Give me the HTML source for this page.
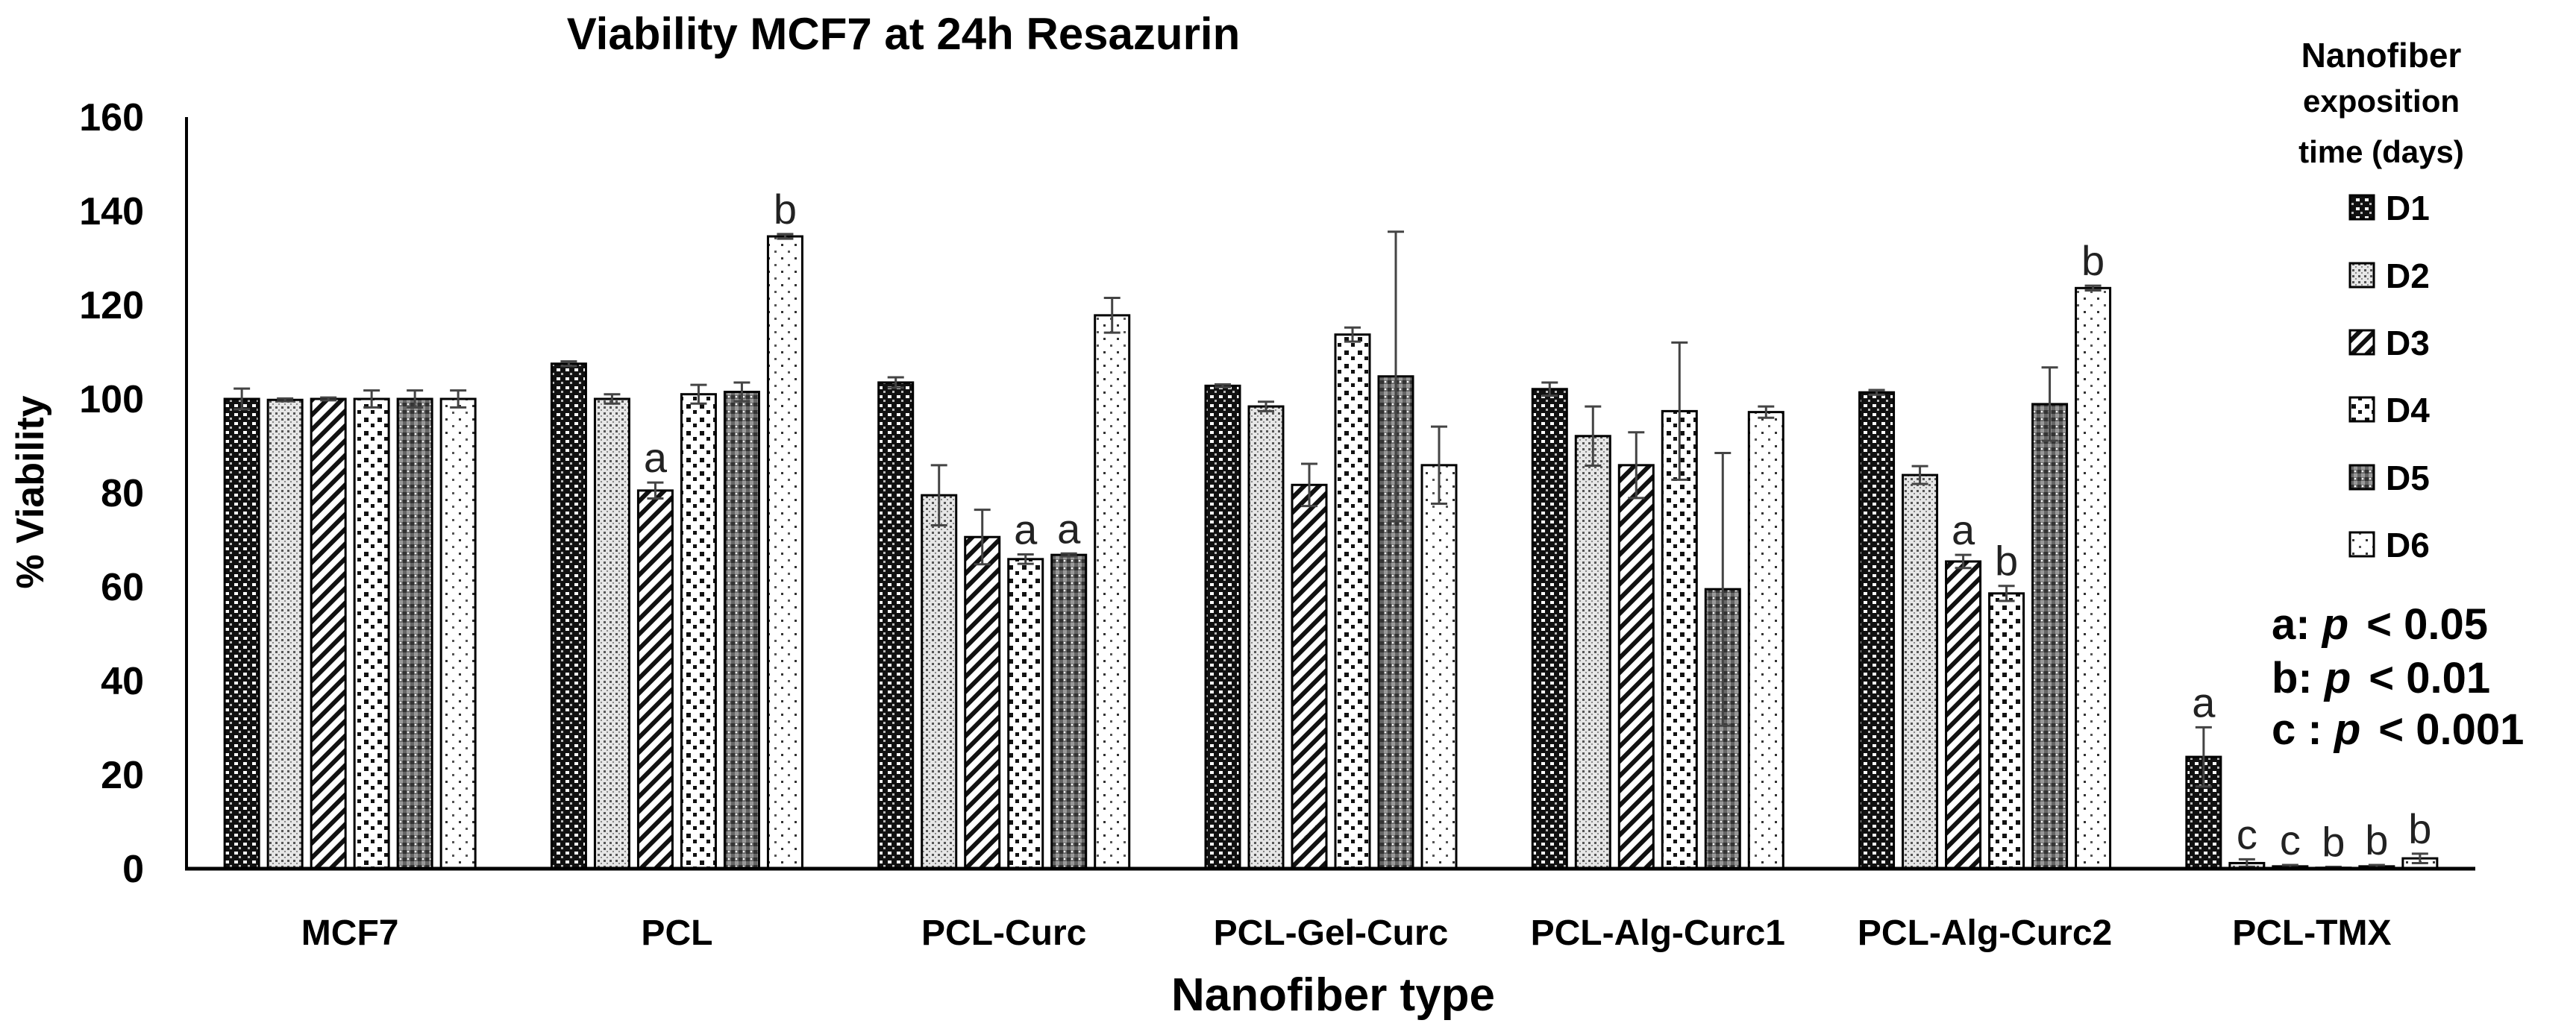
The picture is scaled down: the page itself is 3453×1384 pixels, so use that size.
<!DOCTYPE html>
<html><head><meta charset="utf-8"><style>
html,body{margin:0;padding:0;background:#fff;}
svg{display:block;font-family:"Liberation Sans",sans-serif;}
</style></head><body>
<svg id="chart" width="3453" height="1384" viewBox="0 0 3453 1384" xmlns="http://www.w3.org/2000/svg">
<defs>
<pattern id="p0" width="12" height="12" patternUnits="userSpaceOnUse"><rect width="12" height="12" fill="#111"/><rect x="2" y="2" width="5" height="4" fill="#fff"/><rect x="8" y="8" width="3" height="3" fill="#bbb"/></pattern>
<pattern id="p1" width="8" height="8" patternUnits="userSpaceOnUse"><rect width="8" height="8" fill="#e6e6e6"/><rect x="1" y="1" width="3" height="3" fill="#555"/><rect x="5" y="5" width="2" height="2" fill="#888"/></pattern>
<pattern id="p2" width="14" height="14" patternUnits="userSpaceOnUse" patternTransform="rotate(45)"><rect width="14" height="14" fill="#fff"/><rect width="6" height="14" fill="#111"/></pattern>
<pattern id="p3" width="18" height="18" patternUnits="userSpaceOnUse"><rect width="18" height="18" fill="#fff"/><rect x="2" y="2" width="6" height="6" fill="#111"/><rect x="11" y="10" width="5" height="5" fill="#111"/></pattern>
<pattern id="p4" width="10" height="10" patternUnits="userSpaceOnUse"><rect width="10" height="10" fill="#666"/><rect x="0" y="0" width="5" height="5" fill="#333"/><rect x="5" y="5" width="5" height="5" fill="#999"/><circle cx="7" cy="2" r="1.3" fill="#fff"/></pattern>
<pattern id="p5" width="18" height="18" patternUnits="userSpaceOnUse"><rect width="18" height="18" fill="#fff"/><rect x="3" y="3" width="3" height="3" fill="#333"/><rect x="12" y="12" width="3" height="3" fill="#555"/></pattern>
</defs>
<g id="plot"></g>
</svg>
<script>
const categories = ["MCF7","PCL","PCL-Curc","PCL-Gel-Curc","PCL-Alg-Curc1","PCL-Alg-Curc2","PCL-TMX"];
const seriesNames = ["D1","D2","D3","D4","D5","D6"];
const d1 = [100, 107.5, 103.5, 102.8, 102.1, 101.4, 23.8];
const d2 = [99.8, 100, 79.5, 98.4, 92.1, 83.8, 1.2];
const d3 = [100, 80.5, 70.6, 81.7, 85.9, 65.4, 0.5];
const d4 = [100, 101, 65.9, 113.7, 97.4, 58.6, 0.2];
const d5 = [100, 101.5, 66.8, 104.8, 59.5, 98.9, 0.5];
const d6 = [100, 134.6, 117.8, 85.9, 97.2, 123.6, 2.2];
const e1 = [2.2, 0.5, 1.1, 0.3, 1.4, 0.5, 6.3];
const e2 = [0.3, 1, 6.4, 1, 6.3, 1.9, 0.8];
const e3 = [0.3, 1.7, 5.8, 4.5, 7, 1.4, 0.3];
const e4 = [1.8, 2, 1, 1.5, 14.6, 1.6, 0.2];
const e5 = [1.8, 2, 0.3, 30.8, 29, 7.8, 0.3];
const e6 = [1.8, 0.5, 3.7, 8.2, 1.2, 0.5, 1];
const sig1 = ["", "", "", "", "", "", "a"];
const sig2 = ["", "", "", "", "", "", "c"];
const sig3 = ["", "a", "", "", "", "a", "c"];
const sig4 = ["", "", "a", "", "", "b", "b"];
const sig5 = ["", "", "a", "", "", "", "b"];
const sig6 = ["", "b", "", "", "", "b", "b"];
const yTicks = [0,20,40,60,80,100,120,140,160];

const values=[d1,d2,d3,d4,d5,d6], errs=[e1,e2,e3,e4,e5,e6], sigs=[sig1,sig2,sig3,sig4,sig5,sig6];
const NS="http://www.w3.org/2000/svg";
const X0=250, X1=3318, Y0=1165, YTOP=157, YMAX=160;
const catW=(X1-X0)/categories.length, barW=46, pitch=58;
function y(v){return Y0-(v/YMAX)*(Y0-YTOP);}
function xBar(ci,si){return X0+catW*(ci+0.5)-(6*pitch-12)/2+si*pitch;}
const svg=document.getElementById('chart');
function mk(tag,attrs,parent){const e=document.createElementNS(NS,tag);for(const k in attrs)e.setAttribute(k,attrs[k]);(parent||svg).appendChild(e);return e;}
function txt(s,attrs){const e=mk('text',attrs);e.textContent=s;return e;}

let t=txt("Viability MCF7 at 24h Resazurin",{x:1211,y:66,"font-size":60,"font-weight":"bold","text-anchor":"middle"});


t=txt("% Viability",{x:0,y:0,"font-size":52,"font-weight":"bold","text-anchor":"middle",transform:"translate(58,660) rotate(-90)"});


t=txt("Nanofiber type",{x:1787,y:1355,"font-size":62,"font-weight":"bold","text-anchor":"middle"});



yTicks.forEach(v=>{
  const e=txt(String(v),{x:193,y:y(v)+18,"font-size":52,"font-weight":"bold","text-anchor":"end"});
  
  
});

categories.forEach((c,ci)=>{
  const e=txt(c,{x:X0+catW*(ci+0.5),y:1267,"font-size":48,"font-weight":"bold","text-anchor":"middle"});
  
  
  for(let si=0;si<6;si++){
    const v=values[si][ci], er=errs[si][ci], x=xBar(ci,si);
    const r=mk('rect',{x:x,y:y(v),width:barW,height:Y0-y(v),fill:`url(#p${si})`,stroke:"#000","stroke-width":3});
    
    
    const cx=x+barW/2, yt=y(v+er), yb=y(Math.max(0,v-er));
    const g=mk('path',{d:`M${cx},${yb}V${yt}M${cx-11},${yt}H${cx+11}M${cx-11},${yb}H${cx+11}`,stroke:"#444","stroke-width":3,fill:"none"});
    
    
    const s=sigs[si][ci];
    if(s){
      const l=txt(s,{x:cx,y:yt-14,"font-size":56,"text-anchor":"middle",fill:"#222"});
      
      
    }
  }
});

let ax=mk('line',{x1:X0,y1:YTOP,x2:X0,y2:Y0+2,stroke:"#000","stroke-width":4});


ax=mk('line',{x1:X0-2,y1:Y0,x2:X1,y2:Y0,stroke:"#000","stroke-width":5});



[["Nanofiber",75,46],["exposition",135,42],["time (days)",203,42]].forEach(([s,yy,fs])=>{
  const e=txt(s,{x:3192,y:yy+15,"font-size":fs,"font-weight":"bold","text-anchor":"middle"});
  
  
});
const legY=[278,369,459,549,640,730];
seriesNames.forEach((n,si)=>{
  const r=mk('rect',{x:3150,y:legY[si]-16,width:32,height:32,fill:`url(#p${si})`,stroke:"#000","stroke-width":3});
  
  
  const e=txt(n,{x:3198,y:legY[si]+17,"font-size":46,"font-weight":"bold"});
  
  
});
[["a: ","< 0.05",837],["b: ","< 0.01",909],["c : ","< 0.001",978]].forEach(([a,b,yy])=>{
  const e=mk('text',{x:3045,y:yy+20,"font-size":58,"font-weight":"bold"});
  
  
  const t1=mk('tspan',{},e);t1.textContent=a;
  const t2=mk('tspan',{"font-style":"italic"},e);t2.textContent="p";
  const t3=mk('tspan',{dx:24},e);t3.textContent=b;
});
</script>
</body></html>
